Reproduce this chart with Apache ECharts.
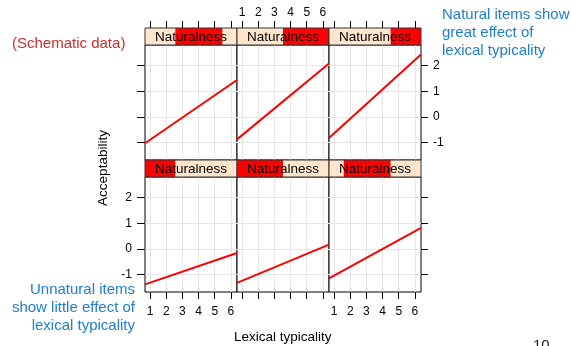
<!DOCTYPE html>
<html>
<head>
<meta charset="utf-8">
<script src="https://cdn.jsdelivr.net/npm/echarts@6/dist/echarts.min.js"></script>
<style>
  html, body { margin: 0; padding: 0; background: #fff; }
  #chart { width: 571px; height: 346px; }
</style>
</head>
<body>
<div id="chart"></div>
<script>
// Tick values of the two axes
const typicalityTicks = [1, 2, 3, 4, 5, 6];
const acceptabilityTicks = [-1, 0, 1, 2];

// Six naturalness levels, lowest first (bottom row left to right, then top row)
const stripLabels = ['Naturalness', 'Naturalness', 'Naturalness', 'Naturalness', 'Naturalness', 'Naturalness'];
// Shaded share of each strip (naturalness interval covered by the panel)
const naturalnessLow  = [0.00, 0.00, 0.16, 0.33, 0.50, 0.67];
const naturalnessHigh = [0.33, 0.50, 0.67, 0.84, 1.00, 1.00];
// Fitted acceptability = intercept + slope * lexical typicality
const fitIntercept = [-1.53, -1.50, -1.38, -1.32, -1.23, -1.21];
const fitSlope     = [0.215, 0.261, 0.344, 0.432, 0.519, 0.570];

const xRange = [0.68, 6.38];
const yRange = [-1.68, 2.80];

const FONT = '"Liberation Sans", Arial, Helvetica, sans-serif';
const colLeft = [145, 237, 329];
const panelW = 92, panelH = 115, stripH = 17;
const rowStripTop = [28, 160];   // row 0 = top, row 1 = bottom

const grid = [], xAxis = [], yAxis = [], series = [];

function tickStyle(show) {
  return { show: show, inside: false, length: 7, customValues: typicalityTicks,
           lineStyle: { color: '#000', width: 1 } };
}
const noLine = { show: false, onZero: false };

for (let i = 0; i < 6; i++) {
  const row = i < 3 ? 1 : 0;
  const col = i % 3;
  const left = colLeft[col];
  const stripTop = rowStripTop[row];
  const panelTop = stripTop + stripH;

  // ---- panel ----
  const pg = grid.length;
  grid.push({ left: left, top: panelTop, width: panelW, height: panelH,
              show: true, backgroundColor: '#fff', borderColor: '#000', borderWidth: 1,
              containLabel: false, outerBoundsMode: 'none' });
  const px = xAxis.length;
  xAxis.push({
    gridIndex: pg, type: 'value', min: xRange[0], max: xRange[1], position: 'bottom',
    axisLine: noLine,
    axisTick: tickStyle(row === 1),
    axisLabel: { show: row === 1 && col !== 1, customValues: typicalityTicks, margin: 14,
                 fontSize: 12, color: '#000', fontFamily: FONT },
    splitLine: { show: true, lineStyle: { color: '#e6e6e6', width: 1 } }
  });
  const py = yAxis.length;
  yAxis.push({
    gridIndex: pg, type: 'value', min: yRange[0], max: yRange[1], position: 'left',
    axisLine: noLine,
    axisTick: { show: col === 0, inside: false, length: 8, customValues: acceptabilityTicks,
                lineStyle: { color: '#000', width: 1 } },
    axisLabel: { show: col === 0 && row === 1, customValues: acceptabilityTicks, margin: 13,
                 fontSize: 12, color: '#000', fontFamily: FONT },
    splitLine: { show: true, lineStyle: { color: '#e6e6e6', width: 1 } }
  });
  if (col === 2) {
    yAxis.push({
      gridIndex: pg, type: 'value', min: yRange[0], max: yRange[1], position: 'right',
      axisLine: noLine,
      axisTick: { show: true, inside: false, length: 7, customValues: acceptabilityTicks,
                  lineStyle: { color: '#000', width: 1 } },
      axisLabel: { show: row === 0, customValues: acceptabilityTicks, margin: 12,
                   fontSize: 12, color: '#000', fontFamily: FONT },
      splitLine: { show: false }
    });
  }
  series.push({
    type: 'line', xAxisIndex: px, yAxisIndex: py, showSymbol: false, silent: true,
    clip: true, animation: false,
    lineStyle: { color: '#ff0000', width: 2 },
    data: [
      [xRange[0], fitIntercept[i] + fitSlope[i] * xRange[0]],
      [xRange[1], fitIntercept[i] + fitSlope[i] * xRange[1]]
    ]
  });

  // ---- strip ----
  const sg = grid.length;
  grid.push({ left: left, top: stripTop, width: panelW, height: stripH, show: false,
              containLabel: false, outerBoundsMode: 'none' });
  const sx = xAxis.length;
  xAxis.push({ gridIndex: sg, type: 'value', min: 0, max: 1, show: false, axisLine: noLine });
  if (row === 0) {
    xAxis.push({
      gridIndex: sg, type: 'value', min: xRange[0], max: xRange[1], position: 'top',
      axisLine: noLine,
      axisTick: tickStyle(true),
      axisLabel: { show: col === 1, customValues: typicalityTicks, margin: 9,
                   fontSize: 12, color: '#000', fontFamily: FONT },
      splitLine: { show: false }
    });
  }
  const sy = yAxis.length;
  yAxis.push({ gridIndex: sg, type: 'value', min: 0, max: 1, show: false, axisLine: noLine });
  series.push({
    type: 'custom', xAxisIndex: sx, yAxisIndex: sy, silent: true, animation: false,
    data: [[naturalnessLow[i], naturalnessHigh[i]]],
    renderItem: (function (label) {
      return function (params, api) {
        const cs = params.coordSys;
        const a = api.coord([api.value(0), 0]);
        const b = api.coord([api.value(1), 1]);
        return {
          type: 'group',
          children: [
            { type: 'rect', shape: { x: cs.x, y: cs.y, width: cs.width, height: cs.height },
              style: { fill: '#ffe5cc' } },
            { type: 'rect', shape: { x: a[0], y: b[1], width: b[0] - a[0], height: a[1] - b[1] },
              style: { fill: '#ff0000' } },
            { type: 'text', style: { text: label, x: cs.x + cs.width / 2, y: cs.y + cs.height / 2 + 1,
                align: 'center', verticalAlign: 'middle', fontSize: 13.5, fill: '#000', fontFamily: FONT } },
            { type: 'rect', shape: { x: cs.x, y: cs.y, width: cs.width, height: cs.height },
              style: { fill: 'none', stroke: '#333', lineWidth: 1 } }
          ]
        };
      };
    })(stripLabels[i])
  });
}

const annotationBlue = '#1f7dcc';
const graphic = [
  { type: 'text', left: 283 - 49, top: 330,
    style: { text: 'Lexical typicality', fontSize: 13.5, fill: '#000', fontFamily: FONT } },
  { type: 'text', x: 103, y: 168, rotation: Math.PI / 2,
    style: { text: 'Acceptability', fontSize: 13.5, fill: '#000', fontFamily: FONT,
             align: 'center', verticalAlign: 'middle' } },
  { type: 'text', x: 12, y: 44,
    style: { text: '(Schematic data)', fontSize: 15, fill: '#d02c2c', fontFamily: FONT,
             verticalAlign: 'middle' } },
  { type: 'text', x: 442, y: 6,
    style: { text: 'Natural items show\ngreat effect of\nlexical typicality', fontSize: 15,
             lineHeight: 18, fill: annotationBlue, fontFamily: FONT } },
  { type: 'text', x: 135, y: 281,
    style: { text: 'Unnatural items\nshow little effect of\nlexical typicality', fontSize: 15,
             lineHeight: 18, fill: annotationBlue, fontFamily: FONT, align: 'right' } },
  { type: 'text', x: 533, y: 338,
    style: { text: '10', fontSize: 15, fill: '#222', fontFamily: FONT } }
];

const chart = echarts.init(document.getElementById('chart'), null, { renderer: 'canvas' });
chart.setOption({
  animation: false,
  backgroundColor: '#fff',
  grid: grid,
  xAxis: xAxis,
  yAxis: yAxis,
  series: series,
  graphic: graphic
});
</script>
</body>
</html>
